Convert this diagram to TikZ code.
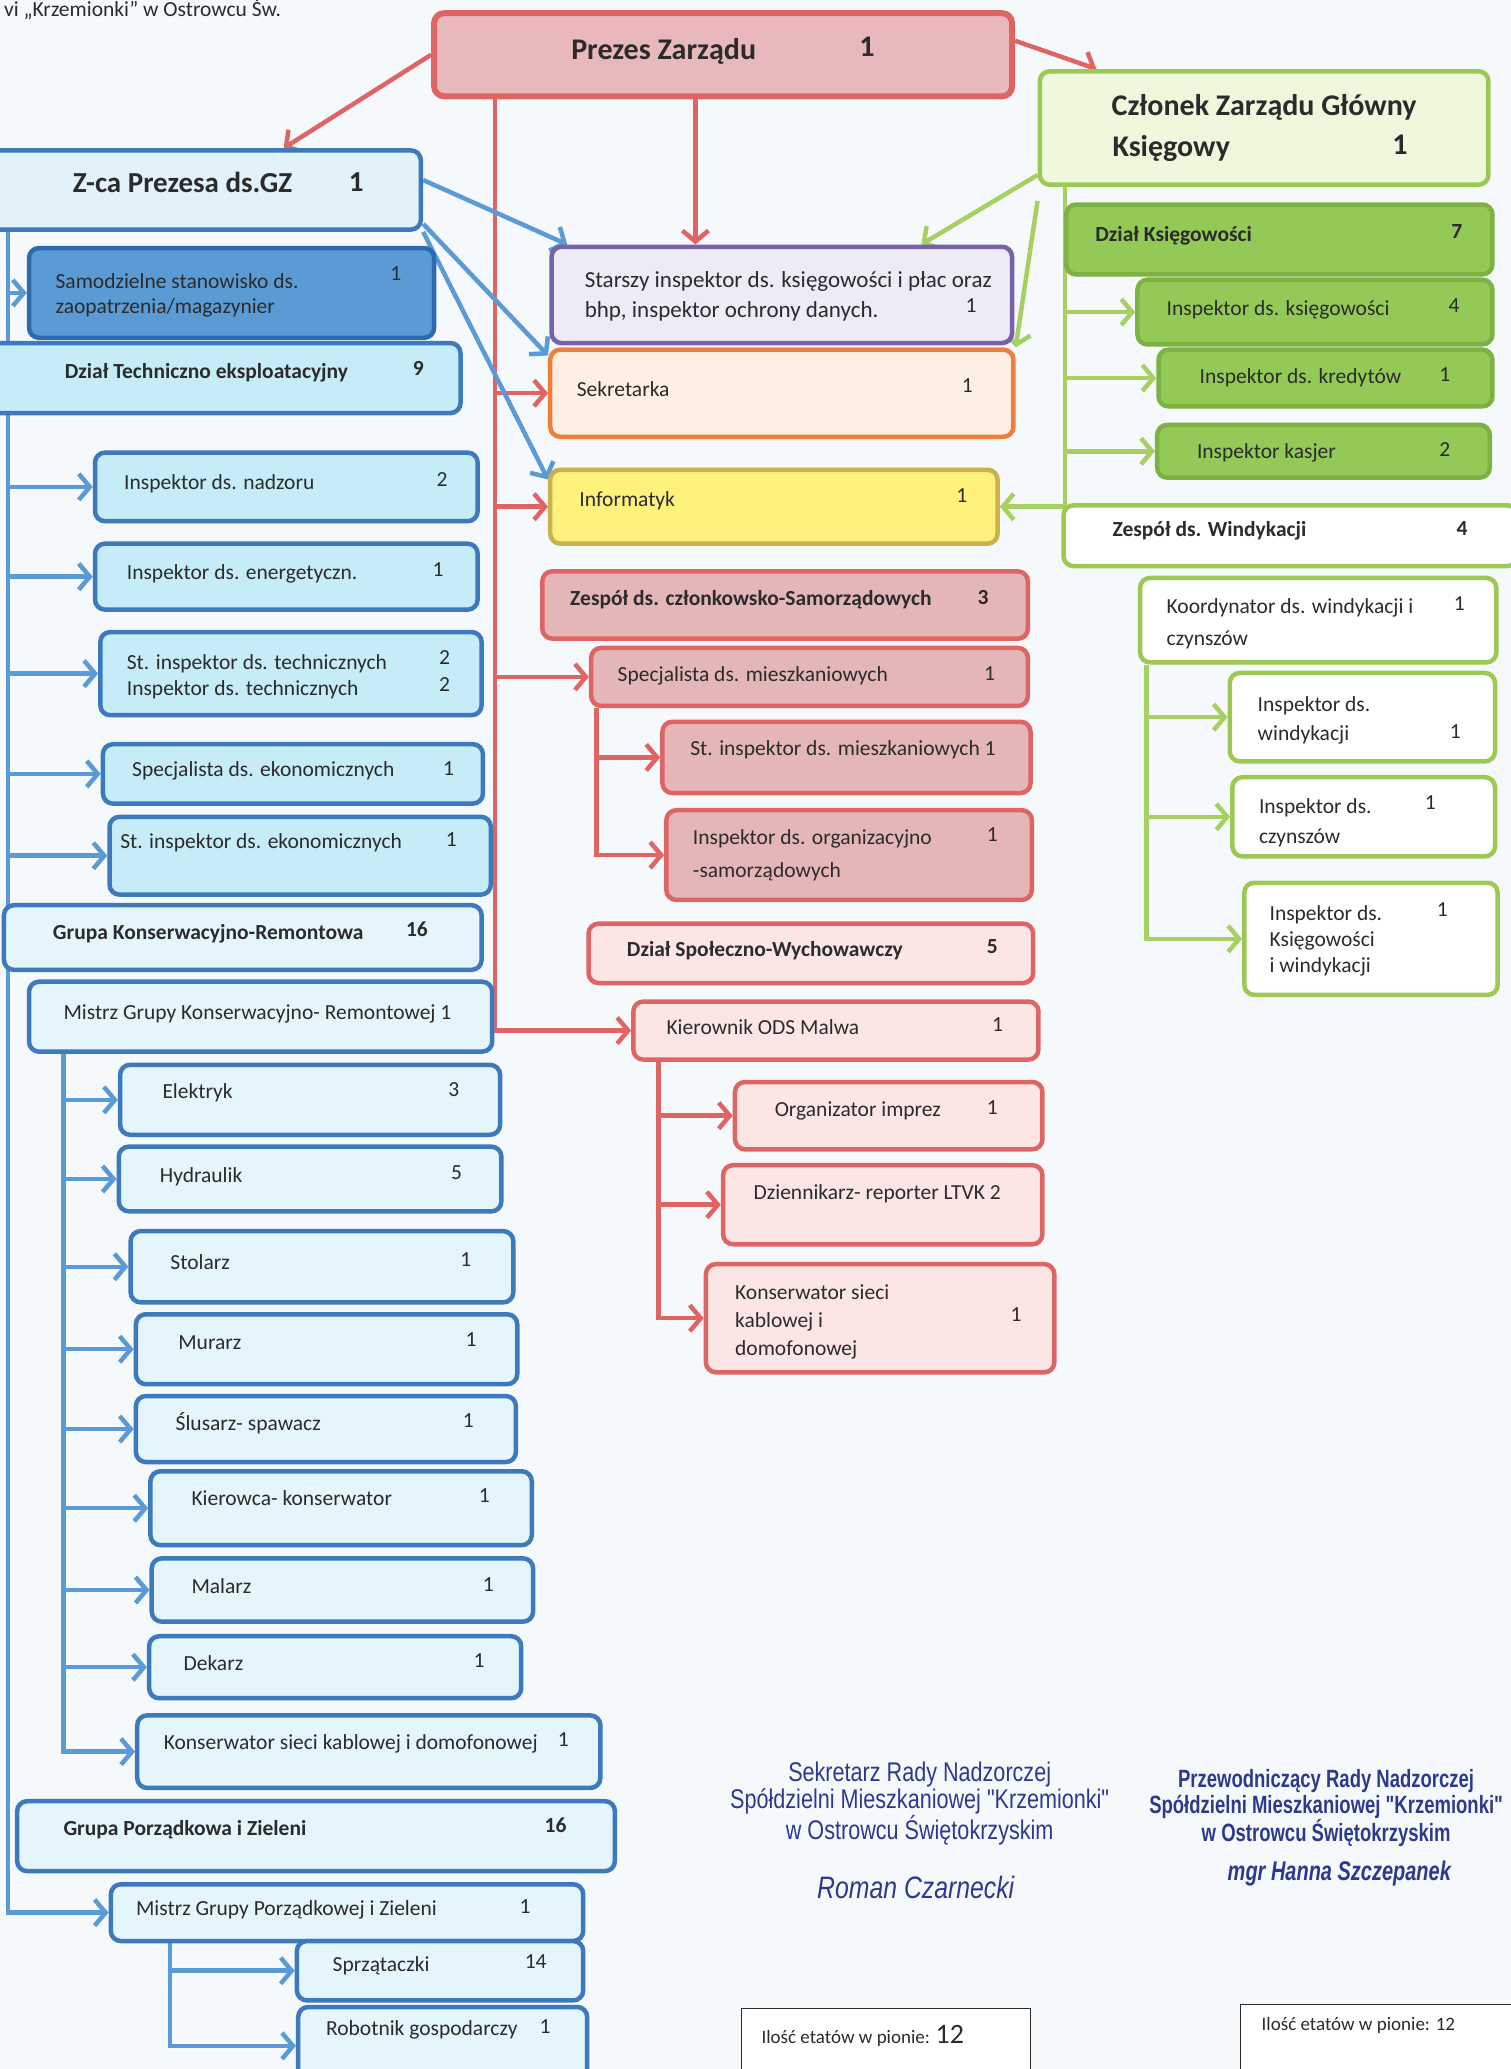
\documentclass[tikz,border=0pt]{standalone}
\usepackage{fontspec}
\setmainfont{Carlito}
\newfontfamily\sigfont[FakeStretch=0.8]{Liberation Sans}
\newfontfamily\sigfontb[FakeStretch=0.74]{Liberation Sans}
\usetikzlibrary{positioning,calc,arrows.meta,backgrounds}

\definecolor{ink}{HTML}{2B2B2B}
\definecolor{pagebg}{HTML}{F6F9FC}
\definecolor{redln}{HTML}{DF6464}
\definecolor{prezesfill}{HTML}{E9B8BD}
\definecolor{pinkfill}{HTML}{E4B6B8}
\definecolor{lpinkfill}{HTML}{FBE6E5}
\definecolor{blueln}{HTML}{3D79BD}
\definecolor{bluearw}{HTML}{5A9AD6}
\definecolor{zcafill}{HTML}{E2F2FA}
\definecolor{samfill}{HTML}{5B9BD5}
\definecolor{samln}{HTML}{2E6AAE}
\definecolor{cyanfill}{HTML}{C6ECF7}
\definecolor{lcyanfill}{HTML}{E4F5FC}
\definecolor{purpleln}{HTML}{7662A8}
\definecolor{lavfill}{HTML}{EEEBF6}
\definecolor{orangeln}{HTML}{EE7E3C}
\definecolor{peachfill}{HTML}{FDEFE4}
\definecolor{yellowfill}{HTML}{FFF27C}
\definecolor{yellowln}{HTML}{C8B24C}
\definecolor{greenln}{HTML}{9CC954}
\definecolor{greendk}{HTML}{7DB243}
\definecolor{greenfill}{HTML}{93C956}
\definecolor{lgreenfill}{HTML}{EFF7DD}
\definecolor{greenarw}{HTML}{A6D162}
\definecolor{sigblue}{HTML}{2C3A8E}

\newcommand\bodyfont{\fontsize{21.5}{26}\selectfont}
% box from corner (x1,y1) to corner (x2,y2), in units of the picture
\newcommand\orgbox[6]{%
  \node[#2, minimum width={(#5-(#3))*1.3197pt},
    minimum height={(#6-(#4))*1.3197pt}]
    (#1) at ({((#3)+(#5))/2},{((#4)+(#6))/2}) {};}

\begin{document}
\begin{tikzpicture}[x=1.3197pt, y=-1.3197pt,
  box/.style={draw, rounded corners=10pt, line width=4.5pt, inner sep=0pt},
  redbox/.style={box, draw=redln, fill=prezesfill, line width=6pt},
  pinkbox/.style={box, draw=redln, fill=pinkfill},
  lpinkbox/.style={box, draw=redln, fill=lpinkfill},
  zcabox/.style={box, draw=blueln, fill=zcafill},
  sambox/.style={box, draw=samln, fill=samfill},
  cyanbox/.style={box, draw=blueln, fill=cyanfill},
  lcyanbox/.style={box, draw=blueln, fill=lcyanfill},
  lavbox/.style={box, draw=purpleln, fill=lavfill},
  peachbox/.style={box, draw=orangeln, fill=peachfill},
  yellowbox/.style={box, draw=yellowln, fill=yellowfill},
  lgreenbox/.style={box, draw=greenln, fill=lgreenfill},
  greenbox/.style={box, draw=greendk, fill=greenfill},
  whitebox/.style={box, draw=greenln, fill=white},
  etatbox/.style={draw=ink, line width=1.2pt, fill=white},
  txt/.style={anchor=mid west, inner sep=0pt, text=ink, font=\bodyfont},
  hd/.style={txt, font=\bodyfont\bfseries},
  ml/.style={txt, anchor=west, align=left},
  num/.style={anchor=mid, inner sep=0pt, text=ink, font=\bodyfont},
  hnum/.style={num, font=\bodyfont\bfseries},
  arr/.style={line width=4.5pt, -{Straight Barb[length=11pt,width=26pt]}},
  rarr/.style={arr, draw=redln},
  barr/.style={arr, draw=bluearw},
  garr/.style={arr, draw=greenarw},
  sig/.style={inner sep=0pt, text=sigblue, align=center}
  ]
  \useasboundingbox (0,0) rectangle (1145,1568);
  \begin{pgfonlayer}{background}
    \fill[pagebg] (0,0) rectangle (1145,1568);
  \end{pgfonlayer}

  \node[txt] (naglowek) at (3,11) {vi „Krzemionki” w Ostrowcu Św.};

  % zarzad
  \orgbox{prezes}{redbox}{329}{10}{767}{73}
  \node[hd, anchor=mid, font=\fontsize{30}{34}\selectfont\bfseries] (prezes-t) at (503,43) {Prezes Zarządu};
  \node[hnum, font=\fontsize{30}{34}\selectfont\bfseries] (prezes-n) at (657,41) {1};

  \orgbox{czlonek}{lgreenbox}{788}{54}{1128}{140}
  \node[hd, anchor=mid, font=\fontsize{30}{34}\selectfont\bfseries] (czlonek-t1) at (958,86) {Członek Zarządu Główny};
  \node[hd, font=\fontsize{30}{34}\selectfont\bfseries] (czlonek-t2) at (843,117) {Księgowy};
  \node[hnum, font=\fontsize{30}{34}\selectfont\bfseries] (czlonek-n) at (1061,115) {1};

  \orgbox{zca}{zcabox}{-8}{114}{319}{174}
  \node[hd, font=\fontsize{29}{33}\selectfont\bfseries] (zca-t) at (55,144) {Z-ca Prezesa ds.GZ};
  \node[hnum, font=\fontsize{29}{33}\selectfont\bfseries] (zca-n) at (270,143) {1};

  % pion techniczny
  \orgbox{samodz}{sambox}{22}{188}{329}{256}
  \node[ml, font=\fontsize{21.5}{25}\selectfont] (samodz-t) at (42,223.5) {Samodzielne stanowisko ds.\\zaopatrzenia/magazynier};
  \node[num] (samodz-n) at (300,211) {1};

  \orgbox{dzialtech}{cyanbox}{-8}{260}{349}{313}
  \node[hd] (dzialtech-t) at (49,285) {Dział Techniczno eksploatacyjny};
  \node[hnum] (dzialtech-n) at (317,283) {9};

  \orgbox{nadzor}{cyanbox}{72}{343}{362}{395}
  \node[txt] (nadzor-t) at (94,369) {Inspektor ds. nadzoru};
  \node[num] (nadzor-n) at (335,367) {2};

  \orgbox{energ}{cyanbox}{72}{412}{362}{462}
  \node[txt] (energ-t) at (96,437) {Inspektor ds. energetyczn.};
  \node[num] (energ-n) at (332,435) {1};

  \orgbox{techn}{cyanbox}{76}{479}{365}{542}
  \node[ml, font=\fontsize{21.5}{26}\selectfont] (techn-t) at (96,513) {St. inspektor ds. technicznych\\Inspektor ds. technicznych};
  \node[num] (techn-n1) at (337,502) {2};
  \node[num] (techn-n2) at (337,522) {2};

  \orgbox{specek}{cyanbox}{78}{564}{366}{609}
  \node[txt] (specek-t) at (100,587) {Specjalista ds. ekonomicznych};
  \node[num] (specek-n) at (340,586) {1};

  \orgbox{stek}{cyanbox}{83}{619}{372}{678}
  \node[txt] (stek-t) at (91,641) {St. inspektor ds. ekonomicznych};
  \node[num] (stek-n) at (342,640) {1};

  \orgbox{grupakr}{lcyanbox}{3}{686}{365}{735}
  \node[hd] (grupakr-t) at (40,710) {Grupa Konserwacyjno-Remontowa};
  \node[hnum] (grupakr-n) at (316,708) {16};

  \orgbox{mistrzkr}{lcyanbox}{22}{744}{373}{797}
  \node[txt] (mistrzkr-t) at (48,771) {Mistrz Grupy Konserwacyjno- Remontowej 1};

  \orgbox{elektryk}{lcyanbox}{91}{807}{379}{860}
  \node[txt] (elektryk-t) at (123,831) {Elektryk};
  \node[num] (elektryk-n) at (344,829) {3};

  \orgbox{hydraulik}{lcyanbox}{90}{869}{380}{918}
  \node[txt] (hydraulik-t) at (121,894) {Hydraulik};
  \node[num] (hydraulik-n) at (346,892) {5};

  \orgbox{stolarz}{lcyanbox}{99}{933}{389}{987}
  \node[txt] (stolarz-t) at (129,960) {Stolarz};
  \node[num] (stolarz-n) at (353,958) {1};

  \orgbox{murarz}{lcyanbox}{103}{996}{392}{1049}
  \node[txt] (murarz-t) at (135,1021) {Murarz};
  \node[num] (murarz-n) at (357,1019) {1};

  \orgbox{slusarz}{lcyanbox}{103}{1058}{391}{1108}
  \node[txt] (slusarz-t) at (133,1082) {Ślusarz- spawacz};
  \node[num] (slusarz-n) at (355,1080) {1};

  \orgbox{kierowca}{lcyanbox}{114}{1115}{403}{1171}
  \node[txt] (kierowca-t) at (145,1139) {Kierowca- konserwator};
  \node[num] (kierowca-n) at (367,1137) {1};

  \orgbox{malarz}{lcyanbox}{115}{1181}{404}{1229}
  \node[txt] (malarz-t) at (145,1206) {Malarz};
  \node[num] (malarz-n) at (370,1204) {1};

  \orgbox{dekarz}{lcyanbox}{113}{1240}{395}{1287}
  \node[txt] (dekarz-t) at (139,1264) {Dekarz};
  \node[num] (dekarz-n) at (363,1262) {1};

  \orgbox{konskr}{lcyanbox}{104}{1300}{455}{1355}
  \node[txt] (konskr-t) at (124,1324) {Konserwator sieci kablowej i domofonowej};
  \node[num] (konskr-n) at (427,1322) {1};

  \orgbox{grupapz}{lcyanbox}{13}{1365}{466}{1418}
  \node[hd] (grupapz-t) at (48,1389) {Grupa Porządkowa i Zieleni};
  \node[hnum] (grupapz-n) at (421,1387) {16};

  \orgbox{mistrzpz}{lcyanbox}{84}{1428}{442}{1471}
  \node[txt] (mistrzpz-t) at (103,1450) {Mistrz Grupy Porządkowej i Zieleni};
  \node[num] (mistrzpz-n) at (398,1448) {1};

  \orgbox{sprzat}{lcyanbox}{225}{1471}{442}{1516}
  \node[txt] (sprzat-t) at (252,1492) {Sprzątaczki};
  \node[num] (sprzat-n) at (406,1490) {14};

  \orgbox{robotnik}{lcyanbox}{226}{1521}{445}{1580}
  \node[txt] (robotnik-t) at (247,1541) {Robotnik gospodarczy};
  \node[num] (robotnik-n) at (413,1539) {1};

  % stanowiska przy prezesie
  \orgbox{starszy}{lavbox}{418}{187}{767}{260}
  \node[ml, font=\fontsize{23}{30}\selectfont] (starszy-t) at (443,224.5) {Starszy inspektor ds. księgowości i płac oraz\\bhp, inspektor ochrony danych.};
  \node[num] (starszy-n) at (736,235) {1};

  \orgbox{sekretarka}{peachbox}{417}{265}{768}{331}
  \node[txt] (sekretarka-t) at (437,299) {Sekretarka};
  \node[num] (sekretarka-n) at (733,296) {1};

  \orgbox{informatyk}{yellowbox}{417}{356}{756}{412}
  \node[txt] (informatyk-t) at (439,382) {Informatyk};
  \node[num] (informatyk-n) at (729,379) {1};

  % pion czlonkowski
  \orgbox{zespolcz}{pinkbox}{411}{433}{779}{484}
  \node[hd] (zespolcz-t) at (432,457) {Zespół ds. członkowsko-Samorządowych};
  \node[hnum] (zespolcz-n) at (745,456) {3};

  \orgbox{specm}{pinkbox}{448}{491}{779}{535}
  \node[txt] (specm-t) at (468,515) {Specjalista ds. mieszkaniowych};
  \node[num] (specm-n) at (750,514) {1};

  \orgbox{stm}{pinkbox}{502}{547}{781}{601}
  \node[txt] (stm-t) at (523,571) {St. inspektor ds. mieszkaniowych 1};

  \orgbox{orgsam}{pinkbox}{505}{614}{782}{682}
  \node[ml, font=\fontsize{21.5}{33}\selectfont] (orgsam-t) at (525,648.5) {Inspektor ds. organizacyjno\\-samorządowych};
  \node[num] (orgsam-n) at (752,636) {1};

  \orgbox{dzialsw}{lpinkbox}{446}{700}{783}{745}
  \node[hd] (dzialsw-t) at (475,723) {Dział Społeczno-Wychowawczy};
  \node[hnum] (dzialsw-n) at (752,721) {5};

  \orgbox{kierownik}{lpinkbox}{480}{759}{787}{803}
  \node[txt] (kierownik-t) at (505,782) {Kierownik ODS Malwa};
  \node[num] (kierownik-n) at (756,780) {1};

  \orgbox{organizator}{lpinkbox}{557}{820}{790}{871}
  \node[txt] (organizator-t) at (587,844) {Organizator imprez};
  \node[num] (organizator-n) at (752,843) {1};

  \orgbox{dziennikarz}{lpinkbox}{548}{883}{790}{943}
  \node[txt] (dziennikarz-t) at (571,907) {Dziennikarz- reporter LTVK 2};

  \orgbox{konsods}{lpinkbox}{535}{958}{799}{1040}
  \node[ml, font=\fontsize{21.5}{28}\selectfont] (konsods-t) at (557,1002) {Konserwator sieci\\kablowej i\\domofonowej};
  \node[num] (konsods-n) at (770,1000) {1};

  % pion ksiegowy
  \orgbox{dzialks}{greenbox}{808}{155}{1131}{208}
  \node[hd] (dzialks-t) at (830,181) {Dział Księgowości};
  \node[hnum] (dzialks-n) at (1104,179) {7};

  \orgbox{inspks}{greenbox}{862}{212}{1131}{261}
  \node[txt] (inspks-t) at (884,237) {Inspektor ds. księgowości};
  \node[num] (inspks-n) at (1102,235) {4};

  \orgbox{inspkr}{greenbox}{878}{265}{1131}{308}
  \node[txt] (inspkr-t) at (909,289) {Inspektor ds. kredytów};
  \node[num] (inspkr-n) at (1095,287) {1};

  \orgbox{kasjer}{greenbox}{877}{322}{1129}{362}
  \node[txt] (kasjer-t) at (907,346) {Inspektor kasjer};
  \node[num] (kasjer-n) at (1095,344) {2};

  \orgbox{windyk}{whitebox}{806}{383}{1150}{429}
  \node[hd] (windyk-t) at (843,405) {Zespół ds. Windykacji};
  \node[hnum] (windyk-n) at (1108,404) {4};

  \orgbox{koord}{whitebox}{864}{438}{1134}{502}
  \node[ml, font=\fontsize{21.5}{32}\selectfont] (koord-t) at (884,473) {Koordynator ds. windykacji i\\czynszów};
  \node[num] (koord-n) at (1106,461) {1};

  \orgbox{inspw}{whitebox}{932}{510}{1133}{577}
  \node[ml, font=\fontsize{21.5}{29}\selectfont] (inspw-t) at (953,546) {Inspektor ds.\\windykacji};
  \node[num] (inspw-n) at (1103,558) {1};

  \orgbox{inspc}{whitebox}{934}{589}{1133}{649}
  \node[ml, font=\fontsize{21.5}{30}\selectfont] (inspc-t) at (954,623.5) {Inspektor ds.\\czynszów};
  \node[num] (inspc-n) at (1084,612) {1};

  \orgbox{inspkw}{whitebox}{943}{669}{1135}{754}
  \node[ml, font=\fontsize{21.5}{26}\selectfont] (inspkw-t) at (962,713) {Inspektor ds.\\Księgowości\\i windykacji};
  \node[num] (inspkw-n) at (1093,693) {1};

  % podpisy
  \node[sig, font=\sigfont\fontsize{27}{27}\selectfont] (podpis-l) at (697,1367)
    {Sekretarz Rady Nadzorczej\\Spółdzielni Mieszkaniowej "Krzemionki"\\w Ostrowcu Świętokrzyskim};
  \node[sig, font=\sigfont\fontsize{31}{31}\selectfont\itshape] (nazwisko-l) at (694,1430) {Roman Czarnecki};
  \node[sig, font=\sigfontb\fontsize{25}{26}\selectfont\bfseries] (podpis-r) at (1005,1370)
    {Przewodniczący Rady Nadzorczej\\Spółdzielni Mieszkaniowej "Krzemionki"\\w Ostrowcu Świętokrzyskim};
  \node[sig, font=\sigfontb\fontsize{27}{27}\selectfont\bfseries\itshape] (nazwisko-r) at (1015,1420) {mgr Hanna Szczepanek};

  \orgbox{etat-l}{etatbox}{562}{1522}{781}{1590}
  \node[txt, font=\fontsize{19}{23}\selectfont] (etat-l-t) at (577,1547) {Ilość etatów w pionie: {\fontsize{28}{30}\selectfont 12}};
  \orgbox{etat-r}{etatbox}{940}{1519}{1160}{1590}
  \node[txt, font=\fontsize{19}{23}\selectfont] (etat-r-t) at (956,1537) {Ilość etatów w pionie: 12};

  % polaczenia
  \coordinate (rt) at (375,0);
  \coordinate (rs) at (527,0);
  \coordinate (rm) at (452,0);
  \coordinate (rk) at (499,0);
  \coordinate (bt) at (6,0);
  \coordinate (bk) at (48,0);
  \coordinate (bp) at (129,0);
  \coordinate (gt) at (807,0);
  \coordinate (gw) at (869,0);

  \begin{pgfonlayer}{background}
    % prezes
    \draw[rarr] (prezes.west) -- ($(zca.north west)!0.68!(zca.north east)$);
    \draw[rarr] ([yshift=14pt]prezes.east) -- ($(czlonek.north west)!0.13!(czlonek.north east)$);
    \draw[rarr] (prezes.south -| rs) -- (starszy.north -| rs);
    \draw[rarr] (prezes.south -| rt) |- (sekretarka.west);
    \draw[rarr] (prezes.south -| rt) |- (informatyk.west);
    \draw[rarr] (prezes.south -| rt) |- (specm.west);
    \draw[rarr] (prezes.south -| rt) |- (kierownik.west);
    \draw[rarr] (specm.south -| rm) |- (stm.west);
    \draw[rarr] (specm.south -| rm) |- (orgsam.west);
    \draw[rarr] (kierownik.south -| rk) |- (organizator.west);
    \draw[rarr] (kierownik.south -| rk) |- (dziennikarz.west);
    \draw[rarr] (kierownik.south -| rk) |- (konsods.west);

    % zastepca
    \draw[barr] ([yshift=10pt]zca.east) -- ([xshift=18pt]starszy.north west);
    \draw[barr] ([yshift=8pt]zca.south east) -- ([yshift=-8pt]sekretarka.north west);
    \draw[barr] (zca.south east) -- ([yshift=-12pt]informatyk.north west);
    \draw[barr] (zca.south -| bt) |- (samodz.west);
    \draw[barr] (zca.south -| bt) |- (nadzor.west);
    \draw[barr] (zca.south -| bt) |- (energ.west);
    \draw[barr] (zca.south -| bt) |- (techn.west);
    \draw[barr] (zca.south -| bt) |- (specek.west);
    \draw[barr] (zca.south -| bt) |- (stek.west);
    \draw[barr] (zca.south -| bt) |- (mistrzpz.west);
    \draw[barr] (mistrzkr.south -| bk) |- (elektryk.west);
    \draw[barr] (mistrzkr.south -| bk) |- (hydraulik.west);
    \draw[barr] (mistrzkr.south -| bk) |- (stolarz.west);
    \draw[barr] (mistrzkr.south -| bk) |- (murarz.west);
    \draw[barr] (mistrzkr.south -| bk) |- (slusarz.west);
    \draw[barr] (mistrzkr.south -| bk) |- (kierowca.west);
    \draw[barr] (mistrzkr.south -| bk) |- (malarz.west);
    \draw[barr] (mistrzkr.south -| bk) |- (dekarz.west);
    \draw[barr] (mistrzkr.south -| bk) |- (konskr.west);
    \draw[barr] (mistrzpz.south -| bp) |- (sprzat.west);
    \draw[barr] (mistrzpz.south -| bp) |- (robotnik.west);

    % glowny ksiegowy
    \draw[garr] ([yshift=12pt]czlonek.south west) -- ($(starszy.north west)!0.8!(starszy.north east)$);
    \draw[garr] ([yshift=-14pt]czlonek.south west) -- (sekretarka.north east);
    \draw[garr] (czlonek.south -| gt) |- (informatyk.east);
    \draw[garr] (czlonek.south -| gt) |- (inspks.west);
    \draw[garr] (czlonek.south -| gt) |- (inspkr.west);
    \draw[garr] (czlonek.south -| gt) |- (kasjer.west);
    \draw[garr] (koord.south -| gw) |- (inspw.west);
    \draw[garr] (koord.south -| gw) |- (inspc.west);
    \draw[garr] (koord.south -| gw) |- (inspkw.west);
  \end{pgfonlayer}
\end{tikzpicture}
\end{document}
